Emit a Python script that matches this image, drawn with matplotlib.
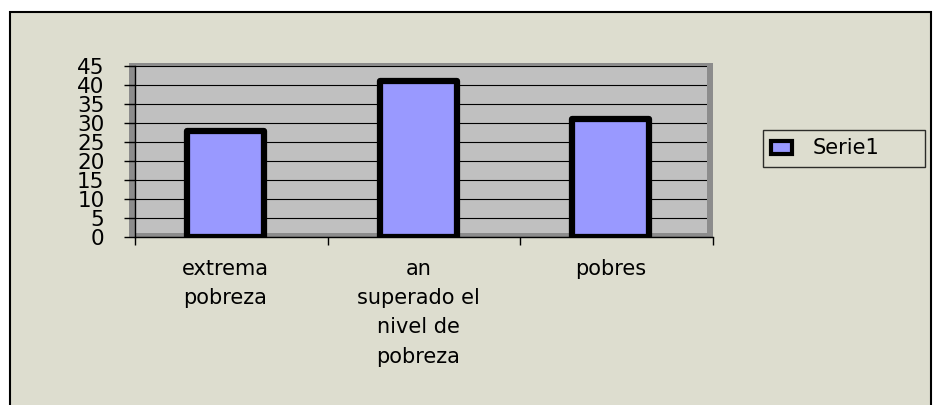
import matplotlib.pyplot as plt
from matplotlib.patches import Rectangle
import numpy as np

categories = ["extrema\npobreza", "an\nsuperado el\nnivel de\npobreza", "pobres"]
values = [28, 41, 31]
series_name = "Serie1"
yticks = list(range(0, 50, 5))

W, H = 933, 405
fig = plt.figure(figsize=(W / 100, H / 100), dpi=100)
fig.patch.set_facecolor("white")


def px(x0, y0, x1, y1):
    # pixel box (top-left origin) -> figure fraction [left, bottom, width, height]
    return [x0 / W, 1 - y1 / H, (x1 - x0) / W, (y1 - y0) / H]


def fig_rect(x0, y0, x1, y1, **kw):
    l, b, w, h = px(x0, y0, x1, y1)
    fig.patches.append(Rectangle((l, b), w, h, transform=fig.transFigure,
                                 zorder=-5, **kw))


# chart area background with frame
fig_rect(10, 12, 931, 420, facecolor="#DDDDCF", edgecolor="black", linewidth=1.5)
# 3D wall: dark frame and light back wall
fig_rect(129, 63, 713, 238, facecolor="#8C8C8C", edgecolor="none")
fig_rect(135, 66, 707, 233, facecolor="#C0C0C0", edgecolor="none")

ax = fig.add_axes(px(135, 66, 713, 237))
ax.set_facecolor("none")

shift = -0.03  # bars sit a bit left of the slot centre (3D depth)
x = np.arange(len(values)) + 0.5 + shift
ax.bar(x, values, width=0.4, color="#9999FF", edgecolor="black",
       linewidth=4.5, joinstyle="round", zorder=3)

ax.set_xlim(0, 3)
ax.set_ylim(0, 45)
ax.set_yticks(yticks)
ax.set_yticklabels([str(v) for v in yticks], fontsize=15.5, family="DejaVu Sans")
ax.tick_params(axis="y", direction="out", length=8, width=1, pad=14)
ax.yaxis.grid(True, color="black", linewidth=0.8)
ax.set_axisbelow(True)

ax.set_xticks([0, 1, 2, 3])
ax.set_xticklabels([])
ax.tick_params(axis="x", which="major", direction="out", length=6, width=1)
ax.set_xticks(x, minor=True)
ax.set_xticklabels(categories, minor=True, fontsize=15, family="DejaVu Sans",
                   linespacing=1.57, va="top")
ax.tick_params(axis="x", which="minor", length=0, pad=16)

for s in ["top", "right"]:
    ax.spines[s].set_visible(False)
ax.spines["left"].set_linewidth(1)
ax.spines["bottom"].set_linewidth(1)

# right wall edge drawn over the gridlines
ax.add_patch(Rectangle((1 - 6 / 578, 4 / 171), 6 / 578, 1 - 4 / 171,
                       transform=ax.transAxes, facecolor="#8C8C8C",
                       edgecolor="none", zorder=1))

handle = Rectangle((0, 0), 1, 1, facecolor="#9999FF", edgecolor="black",
                   linewidth=3, joinstyle="round")
leg = fig.legend([handle], [series_name], loc="center",
                 bbox_to_anchor=px(763, 130, 925, 167), mode="expand",
                 prop={"family": "DejaVu Sans", "size": 15},
                 frameon=True, fancybox=False, handlelength=1.0,
                 handleheight=0.6, borderpad=0.4, handletextpad=1.0,
                 borderaxespad=0)
leg.get_frame().set_edgecolor("black")
leg.get_frame().set_facecolor("#DDDDCF")
leg.get_frame().set_linewidth(1)

fig.savefig("out.png", dpi=100)
